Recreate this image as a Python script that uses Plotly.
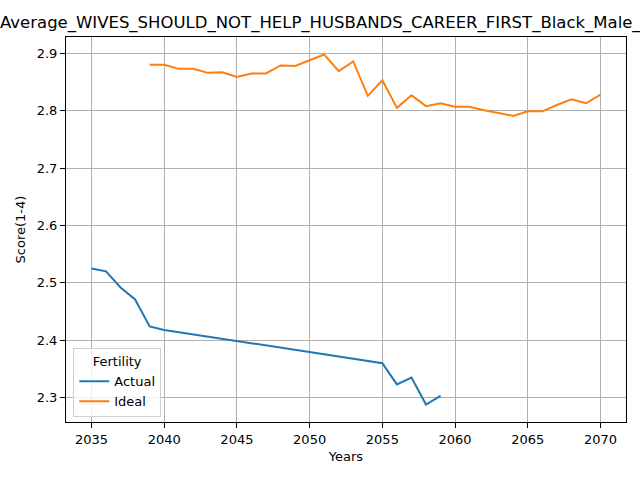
import plotly.graph_objects as go

# Actual fertility series
actual_years = [2035, 2036, 2037, 2038, 2039, 2040, 2055, 2056, 2057, 2058, 2059]
actual_scores = [2.525, 2.520, 2.492, 2.471, 2.424, 2.418, 2.360, 2.323, 2.335, 2.288, 2.303]

# Ideal fertility series
ideal_years = list(range(2039, 2071))
ideal_scores = [2.880, 2.880, 2.873, 2.873, 2.866, 2.867, 2.859, 2.865, 2.865, 2.879,
                2.878, 2.888, 2.898, 2.869, 2.886, 2.826, 2.853, 2.805, 2.827, 2.808,
                2.813, 2.807, 2.807, 2.801, 2.796, 2.791, 2.799, 2.799, 2.810, 2.820,
                2.813, 2.828]

x_ticks = [2035, 2040, 2045, 2050, 2055, 2060, 2065, 2070]
y_ticks = [2.3, 2.4, 2.5, 2.6, 2.7, 2.8, 2.9]

title_text = "Average_WIVES_SHOULD_NOT_HELP_HUSBANDS_CAREER_FIRST_Black_Male_"

fig = go.Figure()
fig.add_trace(go.Scatter(x=actual_years, y=actual_scores, mode="lines", name="Actual",
                         line=dict(color="#1f77b4", width=2)))
fig.add_trace(go.Scatter(x=ideal_years, y=ideal_scores, mode="lines", name="Ideal",
                         line=dict(color="#ff7f0e", width=2)))

axis_style = dict(showline=True, linecolor="black", linewidth=1, mirror=True,
                  ticks="outside", ticklen=5, tickcolor="black",
                  showgrid=True, gridcolor="#b0b0b0", gridwidth=1,
                  zeroline=False, automargin=False,
                  tickfont=dict(size=13, color="black"))

fig.update_layout(
    width=640, height=480,
    margin=dict(l=66, r=14, t=37, b=58),
    paper_bgcolor="white", plot_bgcolor="white",
    font=dict(family="DejaVu Sans", size=13, color="black"),
    title=dict(text=title_text, x=0, xref="container", xanchor="left",
               y=1 - 22 / 480, yref="container", yanchor="middle",
               pad=dict(l=0, r=0, t=0, b=0),
               font=dict(size=16.5, color="black")),
    xaxis=dict(axis_style, range=[2033.25, 2071.75], tickvals=x_ticks,
               title=dict(text="Years", font=dict(size=13), standoff=6)),
    yaxis=dict(axis_style, range=[2.2575, 2.9285], tickvals=y_ticks,
               tickformat=".1f",
               title=dict(text="Score(1-4)", font=dict(size=13), standoff=8)),
    legend=dict(title=dict(text="Fertility", side="top center", font=dict(size=13)),
                x=0.013, y=0.012, xanchor="left", yanchor="bottom",
                bgcolor="rgba(255,255,255,0.8)", bordercolor="#d0d0d0", borderwidth=1,
                tracegroupgap=0, itemwidth=30,
                font=dict(size=13)),
)

# drop the browser's default page margin so the figure sits at the corner
fig.write_html("out.html", config={"displayModeBar": False},
               post_script="document.body.style.margin='0px';")
